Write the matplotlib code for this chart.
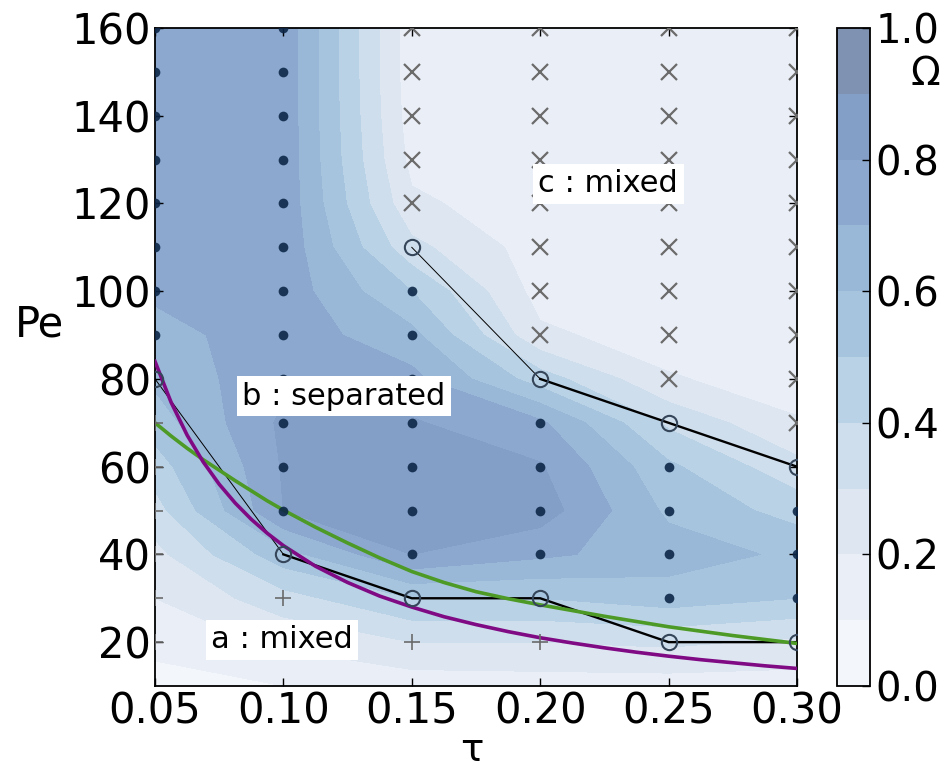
import numpy as np
import matplotlib
matplotlib.use("Agg")
import matplotlib.pyplot as plt
from matplotlib.colors import ListedColormap

tau = [0.05, 0.10, 0.15, 0.20, 0.25, 0.30]
pe = [10, 20, 30, 40, 50, 60, 70, 80, 90, 100, 110, 120, 130, 140, 150, 160]

# Omega on the grid, one row per Pe (10 .. 160), one column per tau
omega = [
    [0.06, 0.10, 0.14, 0.15, 0.15, 0.15],
    [0.13, 0.22, 0.30, 0.30, 0.32, 0.28],
    [0.20, 0.36, 0.50, 0.50, 0.55, 0.50],
    [0.27, 0.56, 0.80, 0.72, 0.65, 0.58],
    [0.36, 0.80, 0.84, 0.85, 0.58, 0.46],
    [0.45, 0.81, 0.84, 0.81, 0.52, 0.33],
    [0.55, 0.82, 0.81, 0.72, 0.38, 0.21],
    [0.62, 0.78, 0.73, 0.45, 0.21, 0.15],
    [0.66, 0.76, 0.63, 0.22, 0.15, 0.14],
    [0.72, 0.76, 0.50, 0.16, 0.14, 0.14],
    [0.75, 0.77, 0.33, 0.15, 0.13, 0.13],
    [0.76, 0.77, 0.22, 0.14, 0.13, 0.13],
    [0.76, 0.77, 0.17, 0.13, 0.13, 0.13],
    [0.76, 0.77, 0.15, 0.13, 0.13, 0.13],
    [0.76, 0.77, 0.14, 0.13, 0.13, 0.13],
    [0.76, 0.77, 0.14, 0.13, 0.13, 0.13],
]

# simulation outcome per run: s separated, m mixed (high Pe), l mixed (low Pe), b boundary
regime_pe = [160, 150, 140, 130, 120, 110, 100, 90, 80, 70, 60, 50, 40, 30, 20]
regime = [
    "ssmmmm",
    "ssmmmm",
    "ssmmmm",
    "ssmmmm",
    "ssmmmm",
    "ssbmmm",
    "sssmmm",
    "sssmmm",
    "bssbmm",
    "lsssbm",
    "lssssb",
    "lsssss",
    "lbssss",
    "llbbss",
    "llllbb",
]

# boundaries between regimes
lower_tau = [0.05, 0.10, 0.15, 0.20, 0.25, 0.30]
lower_pe = [80, 40, 30, 30, 20, 20]
upper_tau = [0.15, 0.20, 0.25, 0.30]
upper_pe = [110, 80, 70, 60]

# theory curves
curve_tau = [0.05, 0.05625, 0.0625, 0.06875, 0.075, 0.08125, 0.0875, 0.09375, 0.10,
             0.1125, 0.125, 0.1375, 0.15, 0.1625, 0.175, 0.1875, 0.20,
             0.2125, 0.225, 0.2375, 0.25, 0.2625, 0.275, 0.2875, 0.30]
purple_pe = [84.0, 74.7, 67.2, 61.1, 56.0, 51.7, 48.0, 44.8, 42.0,
             37.3, 33.6, 30.5, 28.0, 25.8, 24.0, 22.4, 21.0,
             19.8, 18.7, 17.7, 16.8, 16.0, 15.3, 14.6, 14.0]
green_pe = [70.0, 67.0, 64.2, 61.6, 59.2, 56.8, 54.5, 52.2, 50.1,
            46.2, 42.6, 39.2, 36.1, 33.6, 31.5, 29.9, 28.5,
            27.2, 25.9, 24.7, 23.5, 22.5, 21.5, 20.6, 19.7]

band_colors = ["#f3f6fa", "#eaeef6", "#dee6f2", "#cfdeec", "#b9d2e6",
               "#a6c4de", "#99b7d7", "#8ca8cf", "#839ec7", "#7f92b1"]

fig = plt.figure(figsize=(9.48, 7.74), dpi=100)
ax = fig.add_axes([0.1635, 0.1137, 0.6772, 0.8501])
cax = fig.add_axes([0.8829, 0.1137, 0.0348, 0.8501])

cmap = ListedColormap(band_colors)
cs = ax.contourf(tau, pe, np.array(omega), levels=np.linspace(0, 1, 11),
                 cmap=cmap, vmin=0, vmax=1)

ax.plot(lower_tau[:2], lower_pe[:2], color="black", lw=0.7, zorder=3)
ax.plot(lower_tau[1:], lower_pe[1:], color="black", lw=1.7, zorder=3)
ax.plot(upper_tau[:2], upper_pe[:2], color="black", lw=0.7, zorder=3)
ax.plot(upper_tau[1:], upper_pe[1:], color="black", lw=1.7, zorder=3)

ax.plot(curve_tau, green_pe, color="#4e9a26", lw=2.6, zorder=4)
ax.plot(curve_tau, purple_pe, color="#7f0a84", lw=2.6, zorder=5)

styles = {
    "s": dict(marker="o", ms=7, color="#0d2748", mec="none", alpha=0.9),
    "m": dict(marker="x", ms=11, color="#6b6b6b", mew=1.6),
    "l": dict(marker="+", ms=11, color="#6b6b6b", mew=1.2),
    "b": dict(marker="o", ms=11, mfc="none", mec="#36465a", mew=1.5),
}
for key, st in styles.items():
    xs, ys = [], []
    for p, row in zip(regime_pe, regime):
        for t, c in zip(tau, row):
            if c == key:
                xs.append(t)
                ys.append(p)
    ax.plot(xs, ys, ls="none", zorder=6, **st)

box = dict(facecolor="white", edgecolor="none", pad=4)
ax.text(0.1235, 76, "b : separated", fontsize=22, ha="center", va="center", bbox=box, zorder=8)
ax.text(0.2265, 124.5, "c : mixed", fontsize=22, ha="center", va="center", bbox=box, zorder=8)
ax.text(0.0995, 20.5, "a : mixed", fontsize=22, ha="center", va="center", bbox=box, zorder=8)

ax.set_xlim(0.05, 0.30)
ax.set_ylim(10, 160)
ax.set_xticks(tau)
ax.set_xticklabels(["%.2f" % t for t in tau])
ax.set_yticks(range(20, 161, 20))
ax.tick_params(direction="in", top=True, right=True, length=6, width=1,
               labelsize=30, pad=3)
for sp in ax.spines.values():
    sp.set_linewidth(1.3)

ax.set_xlabel("τ", fontsize=28)
ax.xaxis.set_label_coords(0.494, -0.068)
ax.set_ylabel("Pe", fontsize=30, rotation=0, ha="center", va="center")
ax.yaxis.set_label_coords(-0.18, 0.55)

cb = fig.colorbar(cs, cax=cax, ticks=[0, 0.2, 0.4, 0.6, 0.8, 1.0])
cb.ax.tick_params(direction="in", length=6, width=1, labelsize=29, pad=4)
cb.outline.set_linewidth(1.3)
cb.ax.text(2.67, 0.93, "Ω", transform=cb.ax.transAxes, fontsize=28,
           ha="center", va="center")

fig.savefig("out.png", dpi=100)
